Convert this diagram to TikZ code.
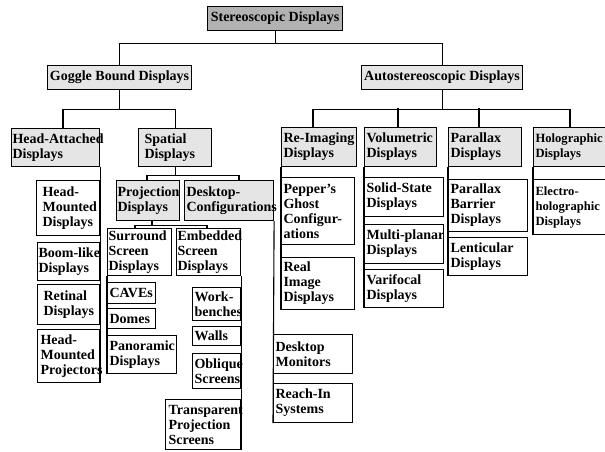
\documentclass[tikz,border=0pt]{standalone}
\usepackage{fontspec}
\setmainfont{Liberation Serif}
\usetikzlibrary{calc}

\newcommand{\boxfont}{\fontsize{14}{15}\selectfont\bfseries\hyphenpenalty=10000\exhyphenpenalty=10000}
\newcommand{\edgefont}{\fontsize{12.6}{15}\selectfont\bfseries\hyphenpenalty=10000\exhyphenpenalty=10000}

\begin{document}
\begin{tikzpicture}[x=1pt, y=-1pt, line width=1.1pt,
	top/.style={draw, anchor=north west, inner sep=0pt, font=\boxfont, fill=black!30},
	group/.style={draw, anchor=north west, inner sep=0pt, font=\boxfont, fill=black!10},
	leaf/.style={draw, anchor=north west, align=left, inner xsep=2pt, inner ysep=0pt, font=\boxfont, fill=white},
	shade/.style={fill=black!10},
	]
	\useasboundingbox (0,0) rectangle (605,451);
	\clip (0,0) rectangle (605,451);

	% top levels
	\node[top, minimum width=135pt, minimum height=24pt] (root) at (207,6) {Stereoscopic Displays};
	\node[group, minimum width=144pt, minimum height=24pt] (goggle) at (47,65) {Goggle Bound Displays};
	\node[group, minimum width=161pt, minimum height=24pt] (auto) at (361,65) {Autostereoscopic Displays};

	% goggle bound side
	\node[leaf, shade, inner xsep=1pt, text width=86pt, minimum height=38pt] (headatt) at (11,128) {Head-Attached\\Displays};
	\node[leaf, shade, inner xsep=6pt, text width=61pt, minimum height=38pt] (spatial) at (138,128) {Spatial\\Displays};

	\node[leaf, inner xsep=6pt, text width=51pt, minimum height=55pt] (hmd) at (36,180) {Head-\\Mounted\\Displays};
	\node[leaf, inner xsep=1pt, text width=60pt, minimum height=38pt] (boom) at (37,242) {Boom-like\\Displays};
	\node[leaf, inner xsep=6pt, text width=50pt, minimum height=40pt] (retinal) at (37,284) {Retinal\\Displays};
	\node[leaf, inner xsep=3pt, text width=56pt, minimum height=53pt] (hmproj) at (37,329) {Head-\\Mounted\\Projectors};

	\node[leaf, shade, inner xsep=1pt, text width=61pt, minimum height=40pt] (proj) at (116,180) {Projection\\Displays};
	\node[leaf, shade, text width=85pt, minimum height=40pt] (desktop) at (184,180) {Desktop-\\Configurations};

	\node[leaf, inner xsep=1pt, text width=62pt, minimum height=47pt] (surround) at (107,228) {Surround\\Screen\\Displays};
	\node[leaf, inner xsep=1pt, text width=62pt, minimum height=47pt] (embedded) at (176,228) {Embedded\\Screen\\Displays};

	\node[leaf, text width=44pt, minimum height=21pt] (caves) at (107,282) {CAVEs};
	\node[leaf, text width=44pt, minimum height=20pt] (domes) at (107,308) {Domes};
	\node[leaf, text width=65pt, minimum height=38pt] (panoramic) at (107,335) {Panoramic\\Displays};

	\node[leaf, text width=44pt, minimum height=33pt] (benches) at (192,287) {Work-\\benches};
	\node[leaf, text width=44pt, minimum height=19pt] (walls) at (192,326) {Walls};
	\node[leaf, text width=44pt, minimum height=35pt] (oblique) at (192,353) {Oblique\\Screens};
	\node[leaf, inner xsep=3pt, text width=69pt, minimum height=50pt] (transp) at (165,399) {Transparent\\Projection\\Screens};

	\node[leaf, text width=75pt, minimum height=39pt] (monitors) at (273,334) {Desktop\\Monitors};
	\node[leaf, text width=75pt, minimum height=39pt] (reachin) at (273,383) {Reach-In\\Systems};

	% autostereoscopic side
	\node[leaf, shade, text width=71pt, minimum height=39pt] (reimg) at (281,127) {Re-Imaging\\Displays};
	\node[leaf, shade, text width=68pt, minimum height=39pt] (volum) at (364,127) {Volumetric\\Displays};
	\node[leaf, shade, text width=69pt, minimum height=39pt] (parallax) at (448,127) {Parallax\\Displays};
	\node[leaf, shade, font=\edgefont, text width=76pt, minimum height=39pt] (holo) at (533,127) {Holographic\\Displays};

	\node[leaf, text width=69pt, minimum height=67pt] (pepper) at (281,177) {Pepper's\\Ghost\\Configur-\\ations};
	\node[leaf, text width=69pt, minimum height=52pt] (realimg) at (281,257) {Real\\Image\\Displays};

	\node[leaf, text width=75pt, minimum height=39pt] (solid) at (364,177) {Solid-State\\Displays};
	\node[leaf, text width=75pt, minimum height=39pt] (multi) at (364,224) {Multi-planar\\Displays};
	\node[leaf, text width=75pt, minimum height=38pt] (varifocal) at (364,269) {Varifocal\\Displays};

	\node[leaf, text width=75pt, minimum height=52pt] (barrier) at (448,179) {Parallax\\Barrier\\Displays};
	\node[leaf, text width=75pt, minimum height=38pt] (lentic) at (448,237) {Lenticular\\Displays};

	\node[leaf, font=\edgefont, text width=76pt, minimum height=55pt] (electro) at (533,179) {Electro-\\holographic\\Displays};

	% connectors
	\draw (root.south) -- ++(0,12) coordinate (bus0);
	\draw (goggle.north) |- (bus0) -| (auto.north);

	\draw (goggle.south) -- ++(0,19) coordinate (bus1);
	\draw ([xshift=52pt]headatt.north west) |- (bus1) -| (spatial.north);

	\draw (spatial.south) -- ++(0,8) coordinate (bus2);
	\draw ([xshift=31pt]proj.north west) |- (bus2) -| ([xshift=55pt]desktop.north west);

	\draw ([xshift=36pt]proj.south west) -- ++(0,4) coordinate (bus3);
	\draw ([xshift=28pt]surround.north west) |- (bus3) -| ([xshift=31pt]embedded.north west);

	\draw (auto.south) -- ++(0,19) coordinate (bus4);
	\draw ([xshift=32pt]reimg.north west) |- (bus4) -| ([xshift=37pt]holo.north west);
	\draw ([xshift=34pt]volum.north west) -- ++(0,-19);
	\draw ([xshift=31pt]parallax.north west) -- ++(0,-19);

	% side trunks
	\draw (headatt.south east) -- (hmproj.south east);
	\draw (surround.south west) -- (panoramic.south west);
	\draw (embedded.south east) -- (transp.south east);
	\draw (desktop.south east) -- (reachin.south west);
	\draw (reimg.south west) -- (realimg.south west);
	\draw (volum.south west) -- (varifocal.south west);
	\draw (parallax.south west) -- (lentic.south west);
	\draw (holo.south west) -- (electro.south west);

\end{tikzpicture}
\end{document}
